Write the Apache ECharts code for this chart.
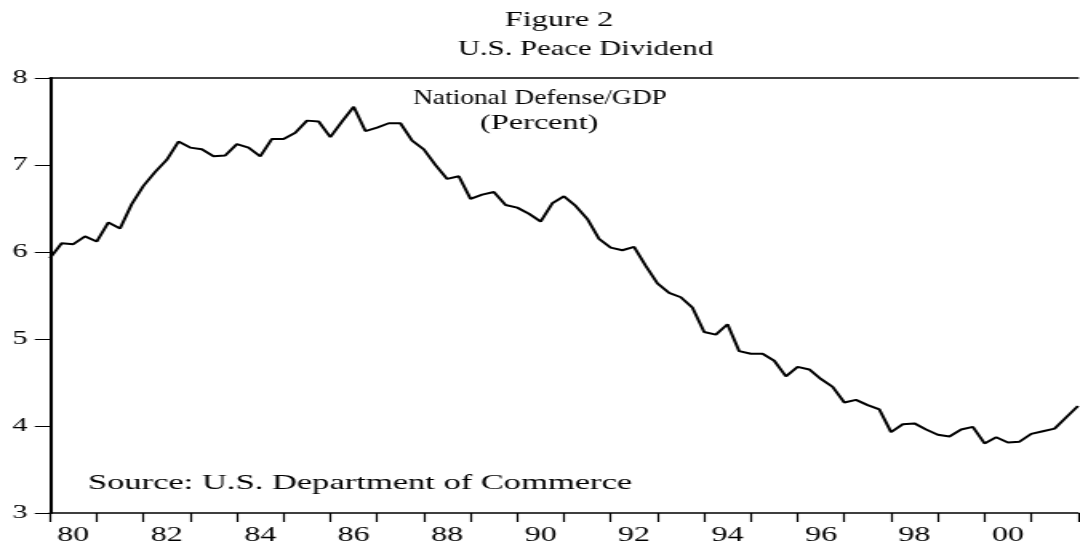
<!DOCTYPE html>
<html>
<head>
<meta charset="utf-8">
<script src="https://cdn.jsdelivr.net/npm/echarts@6/dist/echarts.min.js"></script>
<style>
html,body{margin:0;padding:0;background:#fff;overflow:hidden;}
#wrap{width:1080px;height:546px;overflow:hidden;}
#chart{width:675px;height:546px;transform:scaleX(1.6);transform-origin:0 0;}
</style>
</head>
<body>
<div id="wrap"><div id="chart"></div></div>
<script>
// Quarterly observations, 1980Q1 .. 2002Q1
const startYear = 1980;
const defenseGdp = [
  5.93, 6.10, 6.09, 6.18, 6.12, 6.34, 6.27, 6.55,
  6.76, 6.92, 7.06, 7.27, 7.20, 7.18, 7.10, 7.11,
  7.24, 7.20, 7.10, 7.30, 7.30, 7.37, 7.51, 7.50,
  7.32, 7.50, 7.67, 7.39, 7.43, 7.48, 7.48, 7.28,
  7.18, 7.00, 6.84, 6.87, 6.61, 6.66, 6.69, 6.54,
  6.51, 6.44, 6.35, 6.56, 6.64, 6.53, 6.38, 6.15,
  6.05, 6.02, 6.06, 5.84, 5.64, 5.53, 5.48, 5.36,
  5.08, 5.05, 5.17, 4.86, 4.83, 4.83, 4.75, 4.57,
  4.68, 4.65, 4.54, 4.45, 4.27, 4.30, 4.24, 4.19,
  3.93, 4.02, 4.03, 3.96, 3.90, 3.88, 3.96, 3.99,
  3.80, 3.87, 3.81, 3.82, 3.91, 3.94, 3.97, 4.10,
  4.23
];
const yearLabels = ['80','81','82','83','84','85','86','87','88','89','90',
  '91','92','93','94','95','96','97','98','99','00','01'];
const yTicks = [3, 4, 5, 6, 7, 8];
const titleLines = ['Figure 2', 'U.S. Peace Dividend'];
const innerTitle = ['National Defense/GDP', '(Percent)'];
const sourceNote = 'Source: U.S. Department of Commerce';

const FONT = '"Liberation Serif", "Times New Roman", serif';
const seriesData = defenseGdp.map((v, i) => [startYear + i / 4, v]);

function txt(str, x, y, align, sx) {
  return {type: 'text', x: x, y: y, scaleX: sx, scaleY: 1,
    style: {text: str, fill: '#000', font: '22px ' + FONT,
      textAlign: align, textVerticalAlign: 'top'}};
}

const chart = echarts.init(document.getElementById('chart'), null, {renderer: 'canvas'});
chart.setOption({
  backgroundColor: '#fff',
  animation: false,
  grid: {left: 31.25, right: 1.25, top: 78, bottom: 31.5, containLabel: false},
  xAxis: [
    {
      type: 'value', min: startYear, max: startYear + yearLabels.length, interval: 1,
      position: 'bottom',
      axisLine: {show: true, onZero: false, lineStyle: {color: '#000', width: 1.5}},
      axisTick: {show: true, length: 9, lineStyle: {color: '#000', width: 1.2}},
      axisLabel: {show: false},
      splitLine: {show: false}
    },
    {
      type: 'category', data: yearLabels, boundaryGap: true, position: 'bottom',
      axisLine: {show: false}, axisTick: {show: false},
      axisLabel: {show: true, interval: 1, margin: 13, color: '#000',
        fontFamily: FONT, fontSize: 20},
      splitLine: {show: false}
    },
    {
      type: 'value', min: startYear, max: startYear + yearLabels.length, position: 'top',
      axisLine: {show: true, onZero: false, lineStyle: {color: '#000', width: 1.5}},
      axisTick: {show: false}, axisLabel: {show: false}, splitLine: {show: false}
    }
  ],
  yAxis: {
    type: 'value', min: yTicks[0], max: yTicks[yTicks.length - 1], interval: 1,
    axisLine: {show: true, onZero: false, lineStyle: {color: '#000', width: 2}},
    axisTick: {show: true, length: 9.5, lineStyle: {color: '#000', width: 1}},
    axisLabel: {margin: 14, color: '#000', fontFamily: FONT, fontSize: 19},
    splitLine: {show: false}
  },
  series: [{
    type: 'line', xAxisIndex: 0, data: seriesData, showSymbol: false,
    lineStyle: {color: '#000', width: 2}, clip: false
  }],
  graphic: [
    txt(titleLines[0], 349.4, 9, 'center', 0.92),
    txt(titleLines[1], 366, 38, 'center', 0.87),
    txt(innerTitle[0], 337.5, 87, 'center', 0.78),
    txt(innerTitle[1], 337, 112, 'center', 0.92),
    txt(sourceNote, 55, 472, 'left', 0.98)
  ]
});
</script>
</body>
</html>
